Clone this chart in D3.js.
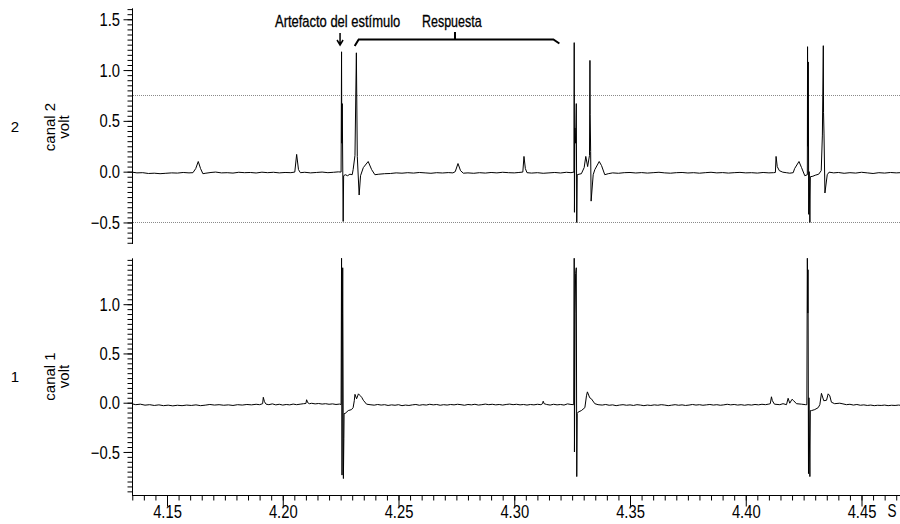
<!DOCTYPE html>
<html>
<head>
<meta charset="utf-8">
<script src="https://cdn.jsdelivr.net/npm/d3@7"></script>
<style>
  html, body { margin: 0; padding: 0; background: #fff; }
  svg { display: block; }
  text { font-family: "Liberation Sans", Arial, sans-serif; fill: #000; }
</style>
</head>
<body>
<svg id="chart" width="900" height="524"></svg>
<script>
// Recorded traces: [time (s), voltage (V)]
const canal2 = [
  [4.1350,-0.005],[4.1370,-0.012],[4.1395,-0.010],[4.1420,-0.018],[4.1445,-0.015],[4.1470,-0.020],
  [4.1495,-0.016],[4.1520,-0.012],[4.1545,-0.014],[4.1570,-0.008],[4.1595,-0.012],[4.1612,-0.010],
  [4.1624,0.030],[4.1635,0.100],[4.1645,0.030],[4.1655,-0.020],[4.1668,-0.015],[4.1690,-0.008],
  [4.1710,-0.004],[4.1735,-0.012],[4.1760,-0.010],[4.1785,-0.014],[4.1810,-0.006],[4.1835,-0.010],
  [4.1860,-0.008],[4.1885,-0.013],[4.1910,-0.005],[4.1935,-0.010],[4.1960,-0.006],[4.1985,-0.012],
  [4.2010,-0.008],[4.2035,-0.010],[4.2052,-0.004],[4.2060,0.170],[4.2068,0.020],[4.2076,-0.010],
  [4.2095,-0.006],[4.2120,-0.012],[4.2145,-0.008],[4.2170,-0.004],[4.2195,-0.010],[4.2220,-0.006],
  [4.2240,-0.002],[4.2252,-0.004],
  [4.2254,1.180],[4.2255,0.280],[4.2257,0.670],[4.2261,-0.490],[4.2263,-0.040],
  [4.2270,-0.030],[4.2280,-0.040],[4.2290,-0.025],[4.2300,-0.030],[4.2304,0.020],[4.2312,0.160],
  [4.2318,1.170],[4.2322,0.150],[4.2330,-0.230],[4.2336,-0.040],[4.2348,0.040],[4.2369,0.100],
  [4.2384,0.020],[4.2398,-0.030],[4.2415,-0.025],[4.2440,-0.020],[4.2465,-0.018],[4.2490,-0.012],
  [4.2515,-0.015],[4.2540,-0.010],[4.2565,-0.014],[4.2590,-0.008],[4.2615,-0.012],[4.2640,-0.016],
  [4.2665,-0.010],[4.2690,-0.013],[4.2715,-0.009],[4.2735,-0.012],[4.2745,0.000],[4.2757,0.080],
  [4.2768,0.010],[4.2780,-0.015],[4.2800,-0.012],[4.2825,-0.016],[4.2850,-0.010],[4.2875,-0.014],
  [4.2900,-0.008],[4.2925,-0.012],[4.2950,-0.006],[4.2975,-0.010],[4.3000,-0.012],[4.3020,-0.008],
  [4.3037,-0.004],[4.3042,0.150],[4.3048,0.030],[4.3055,-0.010],[4.3075,-0.014],[4.3100,-0.010],
  [4.3125,-0.016],[4.3150,-0.012],[4.3175,-0.008],[4.3200,-0.013],[4.3225,-0.006],[4.3245,-0.010],
  [4.3258,-0.004],
  [4.3259,1.270],[4.3260,-0.400],[4.3262,0.430],[4.3265,0.280],[4.3268,0.670],[4.3270,-0.500],
  [4.3272,-0.030],[4.3280,-0.025],[4.3290,-0.020],[4.3302,0.040],[4.3309,0.150],[4.3317,0.050],
  [4.3325,0.160],[4.3327,1.095],[4.3328,0.560],[4.3330,0.200],[4.3332,-0.290],[4.3341,-0.030],
  [4.3348,0.020],[4.3367,0.100],[4.3377,0.060],[4.3391,-0.030],[4.3406,-0.020],[4.3425,-0.012],
  [4.3450,-0.016],[4.3475,-0.010],[4.3500,-0.008],[4.3525,-0.013],[4.3550,-0.009],[4.3575,-0.014],
  [4.3600,-0.010],[4.3625,-0.006],[4.3650,-0.012],[4.3675,-0.015],[4.3700,-0.010],[4.3725,-0.008],
  [4.3750,-0.013],[4.3775,-0.010],[4.3800,-0.015],[4.3825,-0.010],[4.3850,-0.006],[4.3875,-0.012],
  [4.3900,-0.009],[4.3925,-0.014],[4.3950,-0.010],[4.3975,-0.007],[4.4000,-0.012],[4.4025,-0.010],
  [4.4050,-0.014],[4.4075,-0.008],[4.4100,-0.012],[4.4120,-0.010],[4.4128,-0.008],[4.4131,0.150],
  [4.4136,0.050],[4.4145,0.010],[4.4160,-0.005],[4.4175,-0.010],[4.4190,-0.015],[4.4205,-0.010],
  [4.4211,0.030],[4.4230,0.100],[4.4241,0.040],[4.4255,-0.040],[4.4266,-0.030],
  [4.4267,1.230],[4.4268,0.250],[4.4270,1.080],[4.4272,-0.420],[4.4274,0.000],[4.4277,-0.500],
  [4.4279,-0.050],[4.4290,-0.045],[4.4300,-0.035],[4.4315,-0.025],[4.4326,0.010],[4.4331,0.360],
  [4.4335,1.240],[4.4336,0.580],[4.4338,0.380],[4.4342,-0.210],[4.4352,-0.030],[4.4360,-0.005],
  [4.4380,-0.012],[4.4400,-0.008],[4.4425,-0.016],[4.4450,-0.010],[4.4475,-0.014],[4.4500,-0.006],
  [4.4525,-0.012],[4.4550,-0.018],[4.4575,-0.010],[4.4600,-0.014],[4.4625,-0.008],[4.4650,-0.012],
  [4.4667,-0.010]
];

const canal1 = [
  [4.1350,-0.012],[4.1365,-0.020],[4.1385,-0.015],[4.1405,-0.025],[4.1425,-0.020],[4.1445,-0.028],
  [4.1465,-0.022],[4.1485,-0.030],[4.1505,-0.025],[4.1525,-0.032],[4.1545,-0.026],[4.1565,-0.030],
  [4.1585,-0.024],[4.1605,-0.028],[4.1625,-0.022],[4.1645,-0.030],[4.1665,-0.025],[4.1685,-0.018],
  [4.1705,-0.024],[4.1725,-0.020],[4.1745,-0.026],[4.1765,-0.022],[4.1785,-0.028],[4.1805,-0.020],
  [4.1825,-0.024],[4.1845,-0.018],[4.1865,-0.022],[4.1885,-0.016],[4.1900,-0.020],[4.1913,-0.010],
  [4.1916,0.055],[4.1921,0.010],[4.1928,-0.015],[4.1940,-0.020],[4.1955,-0.012],[4.1970,-0.022],
  [4.1985,-0.016],[4.2000,-0.024],[4.2015,-0.018],[4.2030,-0.022],[4.2045,-0.014],[4.2060,-0.020],
  [4.2075,-0.015],[4.2090,-0.010],[4.2100,-0.008],[4.2103,0.030],[4.2108,0.000],[4.2115,-0.010],
  [4.2125,-0.006],[4.2140,-0.012],[4.2155,-0.008],[4.2170,-0.014],[4.2185,-0.010],[4.2200,-0.016],
  [4.2215,-0.012],[4.2230,-0.018],[4.2245,-0.014],[4.2252,-0.018],
  [4.2254,1.550],[4.2256,-0.735],[4.2258,0.910],[4.2259,1.370],[4.2262,-0.770],[4.2264,-0.360],
  [4.2265,-0.110],[4.2269,-0.110],[4.2283,-0.080],[4.2297,-0.070],[4.2304,-0.050],[4.2309,0.020],
  [4.2312,0.085],[4.2319,0.040],[4.2327,0.090],[4.2333,0.075],[4.2341,0.055],[4.2348,0.025],
  [4.2362,-0.015],[4.2377,-0.020],[4.2395,-0.025],[4.2410,-0.018],[4.2425,-0.024],[4.2440,-0.020],
  [4.2455,-0.028],[4.2470,-0.022],[4.2485,-0.026],[4.2500,-0.020],[4.2515,-0.030],[4.2530,-0.024],
  [4.2545,-0.028],[4.2560,-0.022],[4.2575,-0.018],[4.2590,-0.026],[4.2605,-0.020],[4.2620,-0.024],
  [4.2635,-0.016],[4.2650,-0.022],[4.2665,-0.018],[4.2680,-0.026],[4.2695,-0.020],[4.2710,-0.024],
  [4.2725,-0.018],[4.2740,-0.022],[4.2755,-0.016],[4.2770,-0.020],[4.2785,-0.026],[4.2800,-0.018],
  [4.2815,-0.022],[4.2830,-0.016],[4.2845,-0.024],[4.2860,-0.020],[4.2875,-0.014],[4.2890,-0.020],
  [4.2905,-0.016],[4.2920,-0.022],[4.2935,-0.018],[4.2950,-0.024],[4.2965,-0.018],[4.2980,-0.014],
  [4.2995,-0.020],[4.3010,-0.016],[4.3025,-0.022],[4.3040,-0.018],[4.3055,-0.024],[4.3070,-0.018],
  [4.3085,-0.022],[4.3100,-0.016],[4.3115,-0.020],[4.3122,-0.010],[4.3125,0.015],[4.3129,-0.010],
  [4.3140,-0.018],[4.3155,-0.024],[4.3170,-0.016],[4.3185,-0.022],[4.3200,-0.018],[4.3215,-0.024],
  [4.3230,-0.012],[4.3245,-0.018],[4.3257,-0.020],
  [4.3259,1.550],[4.3260,-0.500],[4.3263,0.910],[4.3265,1.310],[4.3268,1.370],[4.3270,-0.750],
  [4.3272,-0.110],[4.3276,-0.095],[4.3290,-0.080],[4.3305,-0.050],[4.3312,0.070],[4.3316,0.110],
  [4.3326,0.050],[4.3333,0.040],[4.3348,-0.010],[4.3362,-0.020],[4.3380,-0.024],[4.3395,-0.018],
  [4.3410,-0.026],[4.3425,-0.022],[4.3440,-0.030],[4.3455,-0.024],[4.3470,-0.020],[4.3485,-0.026],
  [4.3500,-0.022],[4.3515,-0.028],[4.3530,-0.020],[4.3545,-0.024],[4.3560,-0.030],[4.3575,-0.024],
  [4.3590,-0.028],[4.3605,-0.022],[4.3620,-0.026],[4.3635,-0.020],[4.3650,-0.024],[4.3665,-0.030],
  [4.3680,-0.025],[4.3695,-0.020],[4.3710,-0.026],[4.3725,-0.022],[4.3740,-0.028],[4.3755,-0.024],
  [4.3770,-0.018],[4.3785,-0.024],[4.3800,-0.020],[4.3815,-0.026],[4.3830,-0.022],[4.3845,-0.018],
  [4.3860,-0.024],[4.3875,-0.020],[4.3890,-0.026],[4.3905,-0.022],[4.3920,-0.016],[4.3935,-0.022],
  [4.3950,-0.018],[4.3965,-0.024],[4.3980,-0.020],[4.3995,-0.026],[4.4010,-0.020],[4.4025,-0.024],
  [4.4040,-0.018],[4.4055,-0.022],[4.4070,-0.016],[4.4085,-0.020],[4.4100,-0.014],[4.4106,-0.010],
  [4.4111,0.060],[4.4115,0.020],[4.4124,-0.015],[4.4147,-0.020],[4.4161,-0.010],[4.4176,-0.020],
  [4.4183,0.045],[4.4190,-0.005],[4.4200,0.035],[4.4207,0.020],[4.4219,-0.010],[4.4241,-0.015],
  [4.4259,-0.020],[4.4264,-0.020],
  [4.4266,1.550],[4.4268,0.910],[4.4269,1.350],[4.4271,-0.720],[4.4273,0.050],[4.4277,-0.750],
  [4.4279,-0.080],[4.4284,-0.080],[4.4298,-0.070],[4.4313,-0.050],[4.4320,-0.020],[4.4327,0.095],
  [4.4337,0.020],[4.4349,0.025],[4.4356,0.090],[4.4363,0.070],[4.4370,0.005],[4.4384,-0.010],
  [4.4406,-0.005],[4.4420,-0.012],[4.4435,-0.020],[4.4450,-0.016],[4.4465,-0.024],[4.4480,-0.018],
  [4.4495,-0.026],[4.4510,-0.022],[4.4525,-0.028],[4.4540,-0.024],[4.4555,-0.030],[4.4570,-0.026],
  [4.4585,-0.028],[4.4600,-0.024],[4.4615,-0.030],[4.4630,-0.026],[4.4645,-0.028],[4.4660,-0.024],
  [4.4667,-0.026]
];

const timeTicks = [4.15, 4.20, 4.25, 4.30, 4.35, 4.40, 4.45];
const voltTicks = [-0.5, 0.0, 0.5, 1.0, 1.5];
const canal2Thresholds = [0.75, -0.5];

const timeDomain = [4.13488, 4.46663];
const canal2Domain = [-0.712, 1.608];
const canal1Domain = [-0.937, 1.466];

// annotated instants: stimulus artefact and the response window
const stimulusTime = 4.2254;
const responseWindow = [4.2328, 4.3169];
const responseLabelTime = 4.2744;

const svg = d3.select("#chart");
const W = 900;
const left = 132;

const x = d3.scaleLinear().domain(timeDomain).range([left, W]);

const panels = [
  { id: "c2", num: "2", label: "canal 2", data: canal2, domain: canal2Domain, top: 8.3, bottom: 244, thresholds: canal2Thresholds },
  { id: "c1", num: "1", label: "canal 1", data: canal1, domain: canal1Domain, top: 258.3, bottom: 495, thresholds: [] }
];

const tickFont = 18;
// Narrow the tick-label glyphs horizontally
function narrow(sel, factor) {
  sel.each(function () {
    const w = this.getComputedTextLength();
    d3.select(this).attr("textLength", w * factor).attr("lengthAdjust", "spacingAndGlyphs");
  });
}

panels.forEach(p => {
  const y = d3.scaleLinear().domain(p.domain).range([p.bottom, p.top]);
  p.y = y;

  svg.append("clipPath").attr("id", "clip-" + p.id)
    .append("rect").attr("x", left).attr("y", p.top).attr("width", W - left).attr("height", p.bottom - p.top);

  // threshold lines
  svg.append("g").selectAll("line").data(p.thresholds).join("line")
    .attr("x1", left + 1).attr("x2", W)
    .attr("y1", d => Math.round(y(d)) + 0.5).attr("y2", d => Math.round(y(d)) + 0.5)
    .attr("stroke", "#8a8a8a").attr("stroke-width", 1).attr("stroke-dasharray", "1,1");

  // trace
  const line = d3.line().x(d => x(d[0])).y(d => y(d[1]));
  svg.append("path").datum(p.data)
    .attr("clip-path", "url(#clip-" + p.id + ")")
    .attr("d", line)
    .attr("fill", "none").attr("stroke", "#000").attr("stroke-width", 1)
    .attr("stroke-linejoin", "miter");

  // minor ticks every 0.05 V
  const minor = d3.range(Math.ceil(p.domain[0] / 0.05), Math.floor(p.domain[1] / 0.05) + 1).map(k => +(k * 0.05).toFixed(2));
  const gMinor = svg.append("g").attr("transform", `translate(${left + 0.5},0)`)
    .call(d3.axisLeft(y).tickValues(minor).tickSize(5).tickFormat(""));
  gMinor.select(".domain").remove();
  gMinor.selectAll("line").attr("stroke", "#000");

  const gMajor = svg.append("g").attr("transform", `translate(${left + 0.5},0)`)
    .call(d3.axisLeft(y).tickValues(voltTicks.filter(v => v >= p.domain[0] && v <= p.domain[1]))
      .tickSize(9).tickSizeOuter(0).tickPadding(3).tickFormat(d3.format(".1f")));
  gMajor.select(".domain").attr("d", `M0,${p.top}V${p.bottom}`).attr("stroke", "#000");
  gMajor.selectAll("line").attr("stroke", "#000");
  gMajor.selectAll("text").attr("font-size", tickFont).attr("x", -12.5).attr("dy", "0.34em")
    .attr("font-family", "Liberation Sans, Arial, sans-serif").call(narrow, 0.82);

  // channel labels
  const cy = p.id === "c2" ? 127 : 376.5;
  svg.append("text").attr("x", 15).attr("y", cy + 5.3)
    .attr("text-anchor", "middle").attr("font-size", 15).text(p.num);
  svg.append("text").attr("transform", `translate(55,${cy}) rotate(-90)`)
    .attr("text-anchor", "middle").attr("font-size", 15).text(p.label);
  svg.append("text").attr("transform", `translate(68.5,${cy}) rotate(-90)`)
    .attr("text-anchor", "middle").attr("font-size", 15).text("volt");
});

// time axis at the bottom of canal 1
const axisY = panels[1].bottom;
const minorT = d3.range(4.135, 4.4665, 0.005).map(v => +v.toFixed(3));
const gxMinor = svg.append("g").attr("transform", `translate(0,${axisY + 0.5})`)
  .call(d3.axisBottom(x).tickValues(minorT).tickSize(5).tickFormat(""));
gxMinor.select(".domain").remove();
gxMinor.selectAll("line").attr("stroke", "#000");

const gx = svg.append("g").attr("transform", `translate(0,${axisY + 0.5})`)
  .call(d3.axisBottom(x).tickValues(timeTicks).tickSize(11).tickSizeOuter(0).tickFormat(d3.format(".2f")));
gx.select(".domain").attr("d", `M${left},0H${W}`).attr("stroke", "#000");
gx.selectAll("line").attr("stroke", "#000");
gx.selectAll("text").attr("font-size", tickFont).attr("y", 22).attr("dy", null)
  .attr("font-family", "Liberation Sans, Arial, sans-serif").call(narrow, 0.82);

svg.append("text").attr("x", 892).attr("y", axisY + 22).attr("text-anchor", "middle")
  .attr("font-size", tickFont).text("S").call(narrow, 0.75);

// annotations above canal 2 (condensed lettering)
const ann = svg.append("g");
ann.append("text").attr("transform", "translate(275,27) scale(0.81,1)").attr("font-size", 16)
  .attr("stroke", "#000").attr("stroke-width", 0.3)
  .text("Artefacto del estímulo");
ann.append("text").attr("transform", "translate(422,27) scale(0.78,1)").attr("font-size", 16)
  .attr("stroke", "#000").attr("stroke-width", 0.3)
  .text("Respuesta");

// arrow to the stimulus artefact
const artefactX = x(stimulusTime) - 1.5;
ann.append("path")
  .attr("d", `M${artefactX},33V44M${artefactX - 3},40L${artefactX},45L${artefactX + 3},40`)
  .attr("fill", "none").attr("stroke", "#000").attr("stroke-width", 1.5);

// brace spanning the response window
const bx0 = x(responseWindow[0]), bx1 = x(responseWindow[1]), bmid = x(responseLabelTime);
ann.append("path")
  .attr("d", `M${bx0 - 4},46L${bx0},39.5H${bx1}L${bx1 + 6},43.5M${bmid},39.5V32`)
  .attr("fill", "none").attr("stroke", "#000").attr("stroke-width", 2);
</script>
</body>
</html>
